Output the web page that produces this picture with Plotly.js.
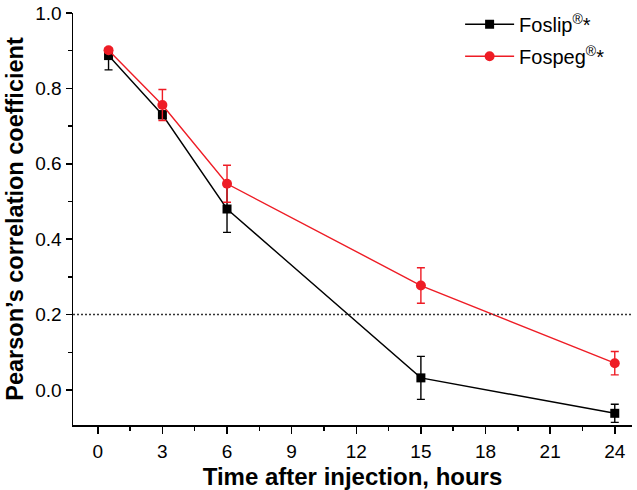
<!DOCTYPE html>
<html>
<head>
<meta charset="utf-8">
<script src="https://cdn.plot.ly/plotly-3.0.1.min.js"></script>
<style>html,body{margin:0;padding:0;background:#fff;}#chart{width:637px;height:490px;}</style>
</head>
<body>
<div id="chart"></div>
<script>
// Data
const hoursFoslip = [0.5, 3, 6, 15, 24];
const foslip = [0.887, 0.73, 0.48, 0.032, -0.062];
const foslipErrPlus = [0.012, 0.01, 0.062, 0.057, 0.024];
const foslipErrMinus = [0.038, 0.01, 0.062, 0.057, 0.024];
const hoursFospeg = [0.5, 3, 6, 15, 24];
const fospeg = [0.901, 0.756, 0.547, 0.277, 0.071];
const fospegErr = [0.006, 0.041, 0.049, 0.047, 0.031];
const xTicks = [0, 3, 6, 9, 12, 15, 18, 21, 24];
const yTicks = [0.0, 0.2, 0.4, 0.6, 0.8, 1.0];
const threshold = 0.2;

const font = 'Liberation Sans, Arial, sans-serif';

const traces = [
  {
    x: hoursFoslip, y: foslip, name: 'Foslip<sup>®</sup>*', legendgroup: 'a',
    mode: 'lines+markers', type: 'scatter',
    line: {color: '#000000', width: 1.4},
    marker: {symbol: 'square', size: 9, color: '#000000'},
    error_y: {type: 'data', symmetric: false, array: foslipErrPlus, arrayminus: foslipErrMinus,
              visible: true, color: '#000000', thickness: 1.4, width: 4}
  },
  {
    x: hoursFospeg, y: fospeg, name: 'Fospeg<sup>®</sup>*', legendgroup: 'b',
    mode: 'lines+markers', type: 'scatter',
    line: {color: '#ee1c25', width: 1.4},
    marker: {symbol: 'circle', size: 10, color: '#ee1c25'},
    error_y: {type: 'data', array: fospegErr, visible: true, color: '#ee1c25', thickness: 1.4, width: 4}
  }
];

const layout = {
  width: 637, height: 490,
  margin: {l: 73, r: 5, t: 10, b: 65},
  paper_bgcolor: '#ffffff', plot_bgcolor: '#ffffff',
  font: {family: font, color: '#000', size: 19},
  showlegend: true,
  legend: {x: 0.6925, y: 1.02, xanchor: 'left', yanchor: 'top', bgcolor: 'rgba(0,0,0,0)',
           font: {family: font, size: 20, color: '#000'}, itemwidth: 49,
           traceorder: 'grouped', tracegroupgap: 3},
  xaxis: {
    range: [-1.15, 24.8], tickvals: xTicks, ticktext: xTicks.map(String),
    showgrid: false, zeroline: false, showline: true, linecolor: '#000', linewidth: 1.5,
    ticks: 'outside', ticklen: 7, tickwidth: 1.5, tickcolor: '#000', ticklabelstandoff: 2,
    minor: {dtick: 1.5, tick0: 0, ticks: 'outside', ticklen: 4, tickwidth: 1.5, tickcolor: '#000', showgrid: false},
    tickfont: {family: font, size: 19},
    title: {text: '<b>Time after injection, hours</b>', font: {family: font, size: 24}, standoff: 8}
  },
  yaxis: {
    range: [-0.093, 1.0], tickvals: yTicks, ticktext: yTicks.map(v => v.toFixed(1)),
    showgrid: false, zeroline: false, showline: true, linecolor: '#000', linewidth: 1.5,
    ticks: 'outside', ticklen: 6, tickwidth: 1.5, tickcolor: '#000',
    minor: {dtick: 0.1, tick0: 0, ticks: 'outside', ticklen: 4, tickwidth: 1.5, tickcolor: '#000', showgrid: false},
    tickfont: {family: font, size: 19},
    title: {text: '<b>Pearson\u2019s correlation coefficient</b>', font: {family: font, size: 23.5}, standoff: 5}
  },
  shapes: [
    {type: 'line', xref: 'paper', yref: 'y', x0: 0, x1: 1, y0: threshold, y1: threshold,
     line: {color: '#333', width: 1.5, dash: '2px,2px'}}
  ]
};

Plotly.newPlot('chart', traces, layout, {displayModeBar: false, staticPlot: true});
</script>
</body>
</html>
